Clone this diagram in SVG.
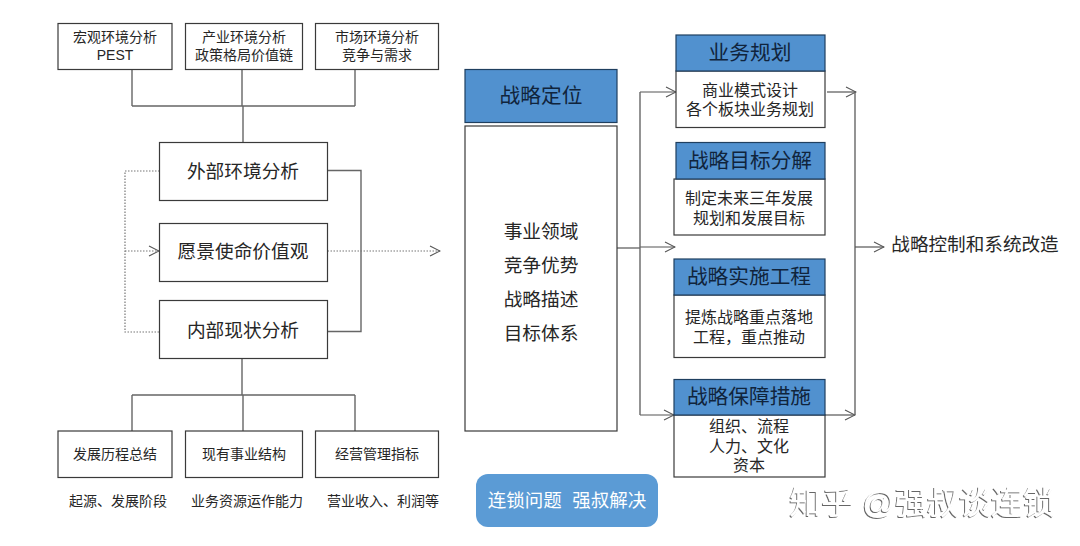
<svg xmlns="http://www.w3.org/2000/svg" width="1080" height="546" viewBox="0 0 1080 546">
<defs>
<marker id="a" viewBox="0 0 12 12" refX="11" refY="6" markerWidth="12" markerHeight="12" markerUnits="userSpaceOnUse" orient="auto"><path d="M1 1L11 6L1 11" fill="none" stroke="#555" stroke-width="1.1"/></marker>
<filter id="wm" x="-10%" y="-20%" width="120%" height="140%"><feDropShadow dx="-1" dy="1" stdDeviation="0.7" flood-color="#666"/></filter>
</defs>
<style>
text{font-family:"Liberation Sans","Noto Sans CJK SC",sans-serif;text-anchor:middle;fill:#262626}
.box{fill:#fff;stroke:#3a3a3a;stroke-width:1.2}
.hd{fill:#5191cf;stroke:#1f3f5f;stroke-width:1.2}
.s{font-size:14px}.m{font-size:18.700px}.h{font-size:20.700px;fill:#10243c}.b{font-size:16px}
.c{fill:none;stroke:#666;stroke-width:1.4}
.d{fill:none;stroke:#777;stroke-width:1.2;stroke-dasharray:1.5 1.5}
.t{fill:none;stroke:#555;stroke-width:1.2}
</style>
<rect width="1080" height="546" fill="#fff"/>
<g id="connectors">
<path class="c" d="M132 69V106M242 69V106M355 69V106M132 106H355M243 106V142"/>
<path class="c" d="M327.500 170.500H361V331.500H327.500"/>
<path class="d" d="M159.500 171H125V332H159.500"/>
<path class="d" d="M125 251H159" marker-end="url(#a)"/>
<path class="d" d="M327.500 251H440" marker-end="url(#a)"/>
<path class="c" d="M242 358V395M132 395H355M132 395V431M243 395V431M355 395V431"/>
<path class="t" d="M612 248H640"/>
<path class="t" d="M640 247H675" marker-end="url(#a)"/>
<path class="t" d="M640 92H676" marker-end="url(#a)"/>
<path class="t" d="M640 415H674" marker-end="url(#a)"/>
<path class="c" d="M640 92V415"/>
<path class="t" d="M827 92H856" marker-end="url(#a)"/>
<path class="t" d="M825 415H855" marker-end="url(#a)"/>
<path class="c" d="M855 92V415"/>
<path class="t" d="M855 247H884" marker-end="url(#a)"/>
</g>
<g id="n-macro"><rect class="box" x="58" y="23.500" width="114" height="46"/><text class="s"><tspan x="115" y="42">宏观环境分析</tspan><tspan x="115" y="60">PEST</tspan></text></g>
<g id="n-industry"><rect class="box" x="185.500" y="23.500" width="117" height="46"/><text class="s"><tspan x="244" y="42">产业环境分析</tspan><tspan x="244" y="60">政策格局价值链</tspan></text></g>
<g id="n-market"><rect class="box" x="315.500" y="23.500" width="123" height="46"/><text class="s"><tspan x="377" y="42">市场环境分析</tspan><tspan x="377" y="60">竞争与需求</tspan></text></g>
<g id="n-external"><rect class="box" x="159.500" y="142.500" width="168" height="58"/><text class="m" x="243" y="178">外部环境分析</text></g>
<g id="n-vision"><rect class="box" x="159.500" y="223.500" width="168" height="58"/><text class="m" x="243" y="258">愿景使命价值观</text></g>
<g id="n-internal"><rect class="box" x="159.500" y="300.500" width="168" height="58"/><text class="m" x="243" y="337">内部现状分析</text></g>
<g id="n-history"><rect class="box" x="58" y="431" width="114" height="46.500"/><text class="s" x="115" y="459">发展历程总结</text></g>
<g id="n-business"><rect class="box" x="185.500" y="431" width="117" height="46.500"/><text class="s" x="244" y="459">现有事业结构</text></g>
<g id="n-metrics"><rect class="box" x="315.500" y="431" width="123" height="46.500"/><text class="s" x="377" y="459">经营管理指标</text></g>
<g id="n-notes"><text class="s" x="118" y="506">起源、发展阶段</text><text class="s" x="247" y="506">业务资源运作能力</text><text class="s" x="383" y="506">营业收入、利润等</text></g>
<g id="n-position"><rect class="hd" x="465" y="69.500" width="152" height="53"/><text class="h" x="541" y="103">战略定位</text></g>
<g id="n-position-body"><rect class="box" x="465" y="126" width="152" height="305"/><text class="m" x="541" y="238">事业领域</text><text class="m" x="541" y="272">竞争优势</text><text class="m" x="541" y="306">战略描述</text><text class="m" x="541" y="340">目标体系</text></g>
<g id="n-plan"><rect class="box" x="676" y="71" width="149" height="56.500"/><rect class="hd" x="676" y="35" width="149" height="36"/><text class="h" x="750" y="60">业务规划</text><text class="b"><tspan x="750" y="96">商业模式设计</tspan><tspan x="750" y="115">各个板块业务规划</tspan></text></g>
<g id="n-goal"><rect class="box" x="674" y="179" width="151" height="56"/><rect class="hd" x="676" y="142.500" width="149" height="36.500"/><text class="h" x="750" y="168">战略目标分解</text><text class="b"><tspan x="749" y="204">制定未来三年发展</tspan><tspan x="749" y="224">规划和发展目标</tspan></text></g>
<g id="n-implement"><rect class="box" x="674" y="295" width="151" height="62.500"/><rect class="hd" x="674" y="259" width="151" height="36"/><text class="h" x="749" y="284">战略实施工程</text><text class="b"><tspan x="749" y="323">提炼战略重点落地</tspan><tspan x="749" y="343">工程，重点推动</tspan></text></g>
<g id="n-support"><rect class="box" x="674" y="415" width="151" height="62"/><rect class="hd" x="674" y="379.500" width="151" height="35.500"/><text class="h" x="749" y="404">战略保障措施</text><text class="b"><tspan x="749" y="432">组织、流程</tspan><tspan x="749" y="452">人力、文化</tspan><tspan x="749" y="471">资本</tspan></text></g>
<g id="n-control"><text x="975" y="251" style="font-size:18.600px">战略控制和系统改造</text></g>
<g id="n-button"><rect x="476" y="474" width="182" height="53" rx="12" fill="#5b9bd5"/><text x="567" y="507" style="font-size:18.500px;fill:#fff" xml:space="preserve">连锁问题  强叔解决</text></g>
<g id="watermark" filter="url(#wm)"><text x="922" y="514" style="font-size:32px;fill:#fff">知乎 @强叔谈连锁</text></g>
</svg>
